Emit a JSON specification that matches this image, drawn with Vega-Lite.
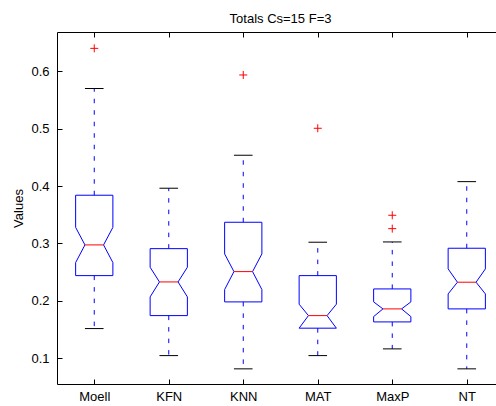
{
  "$schema": "https://vega.github.io/schema/vega-lite/v6.json",
  "width": 447,
  "height": 352,
  "autosize": "none",
  "padding": {"left": 57, "top": 32, "right": 0, "bottom": 22},
  "background": "white",
  "config": {
    "font": "Liberation Sans",
    "view": {"stroke": "black", "strokeWidth": 1},
    "axis": {"domain": false, "grid": false, "labelFont": "Liberation Sans", "labelFontSize": 13, "labelColor": "black", "tickColor": "black", "tickSize": -5, "titleFont": "Liberation Sans", "titleFontSize": 13, "titleFontWeight": "normal", "titleColor": "black"}
  },
  "title": {"text": "Totals Cs=15 F=3", "fontSize": 13, "fontWeight": "normal", "font": "Liberation Sans", "color": "black", "offset": 6},
  "data": {"values": [
    {"g": "Moell", "wlo": 0.1516, "q1": 0.2439, "nlo": 0.2666, "med": 0.2974, "nhi": 0.328, "q3": 0.384, "whi": 0.570, "out": [0.640]},
    {"g": "KFN", "wlo": 0.1045, "q1": 0.1742, "nlo": 0.2068, "med": 0.2329, "nhi": 0.2585, "q3": 0.2909, "whi": 0.3962, "out": []},
    {"g": "KNN", "wlo": 0.0814, "q1": 0.1981, "nlo": 0.2196, "med": 0.2509, "nhi": 0.2817, "q3": 0.3369, "whi": 0.4537, "out": [0.5936]},
    {"g": "MAT", "wlo": 0.1045, "q1": 0.1523, "nlo": 0.1523, "med": 0.1742, "nhi": 0.1941, "q3": 0.2439, "whi": 0.3021, "out": [0.5007]},
    {"g": "MaxP", "wlo": 0.1162, "q1": 0.1632, "nlo": 0.1725, "med": 0.1859, "nhi": 0.1981, "q3": 0.2207, "whi": 0.3026, "out": [0.3258, 0.3491]},
    {"g": "NT", "wlo": 0.0814, "q1": 0.1859, "nlo": 0.212, "med": 0.2324, "nhi": 0.2556, "q3": 0.2916, "whi": 0.4077, "out": []}
  ]},
  "transform": [{"window": [{"op": "row_number", "as": "i"}]}],
  "layer": [
    {
      "transform": [
        {"calculate": "[{k:0,dx:-0.25,y:datum.q3},{k:1,dx:0.25,y:datum.q3},{k:2,dx:0.25,y:datum.nhi},{k:3,dx:0.125,y:datum.med},{k:4,dx:0.25,y:datum.nlo},{k:5,dx:0.25,y:datum.q1},{k:6,dx:-0.25,y:datum.q1},{k:7,dx:-0.25,y:datum.nlo},{k:8,dx:-0.125,y:datum.med},{k:9,dx:-0.25,y:datum.nhi},{k:10,dx:-0.25,y:datum.q3}]", "as": "verts"},
        {"flatten": ["verts"]},
        {"calculate": "datum.i + datum.verts.dx", "as": "vx"},
        {"calculate": "datum.verts.y", "as": "vy"},
        {"calculate": "datum.verts.k", "as": "vk"}
      ],
      "mark": {"type": "line", "color": "#0000ff", "strokeWidth": 1},
      "encoding": {
        "x": {"field": "vx", "type": "quantitative", "scale": {"domain": [0.5, 6.5], "nice": false, "zero": false},
          "axis": {"orient": "bottom", "title": null, "values": [1, 2, 3, 4, 5, 6], "labelExpr": "['Moell','KFN','KNN','MAT','MaxP','NT'][datum.value-1]", "labelPadding": 11, "labelBaseline": "top"}},
        "y": {"field": "vy", "type": "quantitative", "scale": {"domain": [0.055, 0.6685], "nice": false, "zero": false},
          "axis": {"title": "Values", "values": [0.1, 0.2, 0.3, 0.4, 0.5, 0.6], "format": ".1f", "labelPadding": 13, "titlePadding": 5}},
        "detail": {"field": "g"},
        "order": {"field": "vk", "type": "quantitative"}
      }
    },
    {
      "mark": {"type": "rule", "color": "#0000ff", "strokeWidth": 1, "strokeDash": [4.5, 7]},
      "encoding": {"x": {"field": "i", "type": "quantitative", "axis": null}, "y": {"field": "q3", "type": "quantitative"}, "y2": {"field": "whi"}}
    },
    {
      "mark": {"type": "rule", "color": "#0000ff", "strokeWidth": 1, "strokeDash": [4.5, 7]},
      "encoding": {"x": {"field": "i", "type": "quantitative", "axis": null}, "y": {"field": "q1", "type": "quantitative"}, "y2": {"field": "wlo"}}
    },
    {
      "transform": [
        {"fold": ["whi", "wlo"], "as": ["key", "val"]},
        {"calculate": "datum.i - 0.125", "as": "xa"},
        {"calculate": "datum.i + 0.125", "as": "xb"}
      ],
      "mark": {"type": "rule", "color": "black", "strokeWidth": 1},
      "encoding": {"x": {"field": "xa", "type": "quantitative", "axis": null}, "x2": {"field": "xb"}, "y": {"field": "val", "type": "quantitative"}}
    },
    {
      "transform": [
        {"calculate": "datum.i - 0.125", "as": "xa"},
        {"calculate": "datum.i + 0.125", "as": "xb"}
      ],
      "mark": {"type": "rule", "color": "#ff0000", "strokeWidth": 1},
      "encoding": {"x": {"field": "xa", "type": "quantitative", "axis": null}, "x2": {"field": "xb"}, "y": {"field": "med", "type": "quantitative"}}
    },
    {
      "transform": [{"flatten": ["out"]}, {"filter": "isValid(datum.out)"}],
      "mark": {"type": "point", "shape": "M-1,0L1,0M0,-1L0,1", "size": 64, "stroke": "#ff0000", "strokeWidth": 1, "filled": false, "opacity": 1},
      "encoding": {"x": {"field": "i", "type": "quantitative", "axis": null}, "y": {"field": "out", "type": "quantitative"}}
    },
    {
      "mark": {"type": "rule", "opacity": 0},
      "encoding": {
        "x": {"field": "i", "type": "quantitative", "axis": {"orient": "top", "title": null, "labels": false, "values": [1, 2, 3, 4, 5, 6]}}
      }
    }
  ],
  "resolve": {"axis": {"x": "independent"}}
}
